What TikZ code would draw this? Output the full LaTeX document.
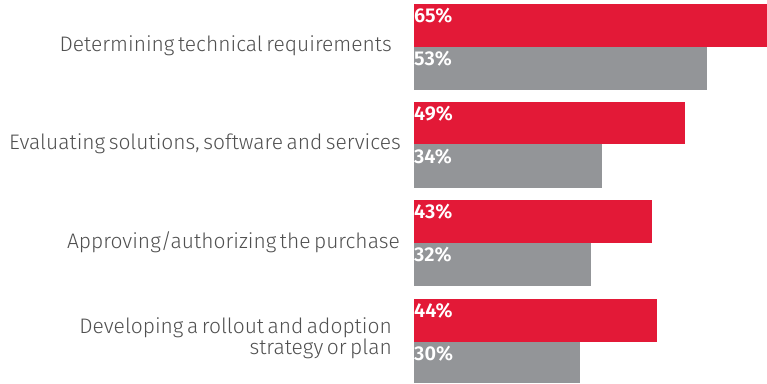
\documentclass[tikz,border=0pt]{standalone}
\usepackage{fontspec}
\setmainfont{Fira Sans Light}[BoldFont={Fira Sans SemiBold},WordSpace=0.6]
\definecolor{barred}{HTML}{E31937}
\definecolor{bargray}{HTML}{939598}
\definecolor{labeltext}{HTML}{505050}
\begin{document}
\begin{tikzpicture}[x=1pt,y=-1pt,
  redbar/.style={fill=barred,draw=none},
  graybar/.style={fill=bargray,draw=none},
  cat/.style={anchor=base east,inner sep=0pt,text=labeltext,font=\fontsize{21}{18}\selectfont,align=right},
  pct/.style={anchor=base west,inner sep=0pt,text=white,font=\fontsize{20}{20}\selectfont\bfseries}]
\useasboundingbox (0,0) rectangle (767,383);
\def\sx{5.526}
% group 1
\fill[redbar] (414,4) rectangle (767,47);
\fill[graybar] (414,47) rectangle ({414+53*\sx},90);
\node[pct] (p1a) at (414,22.7) {65\%};
\node[pct] (p1b) at (414,65.5) {53\%};
\node[cat] (c1) at (392,51.7) {Determining technical requirements};
% group 2
\fill[redbar] (414,101.5) rectangle ({414+49*\sx},144.3);
\fill[graybar] (414,144.3) rectangle ({414+34*\sx},188);
\node[pct] (p2a) at (414,120.3) {49\%};
\node[pct] (p2b) at (414,163) {34\%};
\node[cat] (c2) at (401,149.5) {Evaluating solutions, software and services};
% group 3
\fill[redbar] (414,200) rectangle ({414+43*\sx},243);
\fill[graybar] (414,243) rectangle ({414+32*\sx},286);
\node[pct] (p3a) at (414,218.7) {43\%};
\node[pct] (p3b) at (414,261.7) {32\%};
\node[cat] (c3) at (400,248) {Approving/authorizing the purchase};
% group 4
\fill[redbar] (414,299) rectangle ({414+44*\sx},341.7);
\fill[graybar] (414,341.7) rectangle ({414+30*\sx},383);
\node[pct] (p4a) at (414,317.7) {44\%};
\node[pct] (p4b) at (414,360.5) {30\%};
\node[cat] (c4a) at (392,333.5) {Developing a rollout and adoption};
\node[cat] (c4b) at (392,354.5) {strategy or plan};
\end{tikzpicture}
\end{document}
